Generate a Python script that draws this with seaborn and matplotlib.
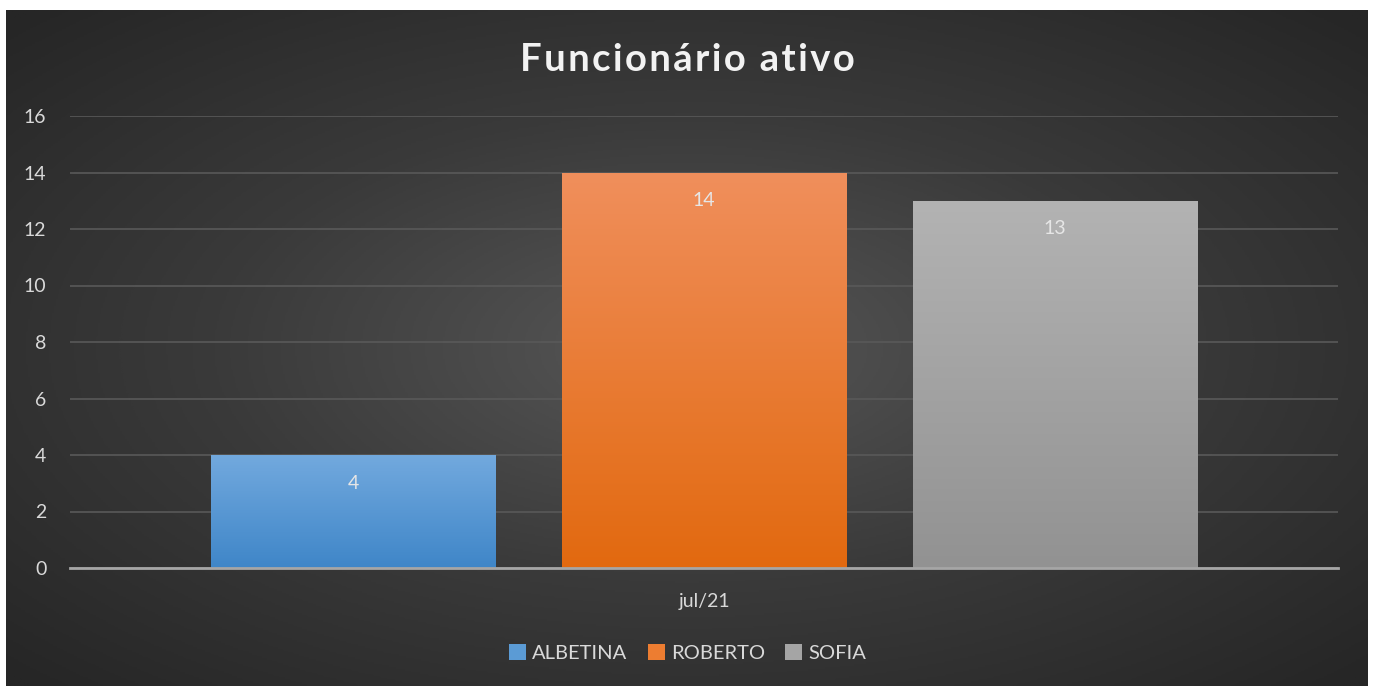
import numpy as np
import pandas as pd
import matplotlib.pyplot as plt
import seaborn as sns
from matplotlib.colors import LinearSegmentedColormap
from matplotlib.patches import Patch

# Data
months = ["jul/21", "jul/21", "jul/21"]
names = ["ALBETINA", "ROBERTO", "SOFIA"]
values = [4, 14, 13]
title = "Funcionário ativo"

# (top colour, bottom colour) per series
top_colors = ["#72A9DE", "#F08F5C", "#B3B3B3"]
bottom_colors = ["#3F86C8", "#E2690F", "#929292"]
mid_colors = ["#5B9BD5", "#ED7D31", "#A5A5A5"]

df = pd.DataFrame({"mes": months, "funcionario": names, "valor": values})

sns.set_theme(style="dark")
plt.rcParams["font.family"] = ["Lato", "DejaVu Sans"]

W, H = 1375, 686
fig = plt.figure(figsize=(W / 100, H / 100), dpi=100, facecolor="white")

# dark radial background of the chart area
bg = fig.add_axes([6 / W, 0, 1362 / W, 676 / H], zorder=0)
yy, xx = np.mgrid[-1:1:400j, -1:1:800j]
r = np.sqrt((xx * 0.9) ** 2 + (yy * 0.9) ** 2)
bg_cmap = LinearSegmentedColormap.from_list("bg", ["#575757", "#3a3a3a", "#262626"])
bg.imshow(r, cmap=bg_cmap, aspect="auto", extent=[0, 1, 0, 1], vmin=0, vmax=1.25)
bg.set_axis_off()

ax = fig.add_axes([70 / W, (H - 568) / H, (1338 - 70) / W, (568 - 116) / H], zorder=1)
ax.patch.set_alpha(0)

sns.barplot(data=df, x="mes", y="valor", hue="funcionario", palette=mid_colors,
            width=0.83, gap=0.19, ax=ax, legend=False, saturation=1, linewidth=0)

ax.set_yticks(range(0, 17, 2))
ax.grid(axis="y", color="#595959", linewidth=1.2)
ax.set_axisbelow(True)
for s in ["top", "right", "left"]:
    ax.spines[s].set_visible(False)
ax.spines["bottom"].set_color("#A6A6A6")
ax.spines["bottom"].set_linewidth(2)
ax.spines["bottom"].set_zorder(5)
ax.tick_params(axis="y", colors="#D9D9D9", labelsize=14, length=0, pad=17)
ax.tick_params(axis="x", colors="#D9D9D9", labelsize=14, length=0, pad=18)
ax.set_xlabel("")
ax.set_ylabel("")

# vertical gradient on each bar + value label
for bar, v, tc, bc in zip(ax.patches, values, top_colors, bottom_colors):
    x0, y0 = bar.get_x(), bar.get_y()
    w, h = bar.get_width(), bar.get_height()
    cmap = LinearSegmentedColormap.from_list("g", [bc, tc])
    grad = np.linspace(0, 1, 256).reshape(-1, 1)
    im = ax.imshow(grad, cmap=cmap, aspect="auto", origin="lower",
                   extent=[x0, x0 + w, y0, y0 + h], zorder=bar.get_zorder() + 0.1)
    im.set_clip_path(bar)
    ax.text(x0 + w / 2, v - 1.0, str(v), ha="center", va="center",
            color="#E6E6E6", fontsize=14, zorder=4)
ax.set_xlim(-0.5, 0.5)
ax.set_ylim(0, 16)

# letter-spaced title
spaced = "\u200a".join(title)
fig.text(0.5, 1 - 60 / H, spaced, ha="center", va="center",
         color="#F2F2F2", fontsize=27.5, fontweight="bold")

handles = [Patch(facecolor=c, edgecolor="none") for c in mid_colors]
fig.legend(handles, names, loc="center", bbox_to_anchor=(0.5, 1 - 653 / H),
           ncol=3, frameon=False, fontsize=14.5, labelcolor="#D9D9D9",
           handlelength=0.85, handleheight=0.85, handletextpad=0.3, columnspacing=1.0)

fig.savefig("out.png", dpi=100, facecolor="white")
